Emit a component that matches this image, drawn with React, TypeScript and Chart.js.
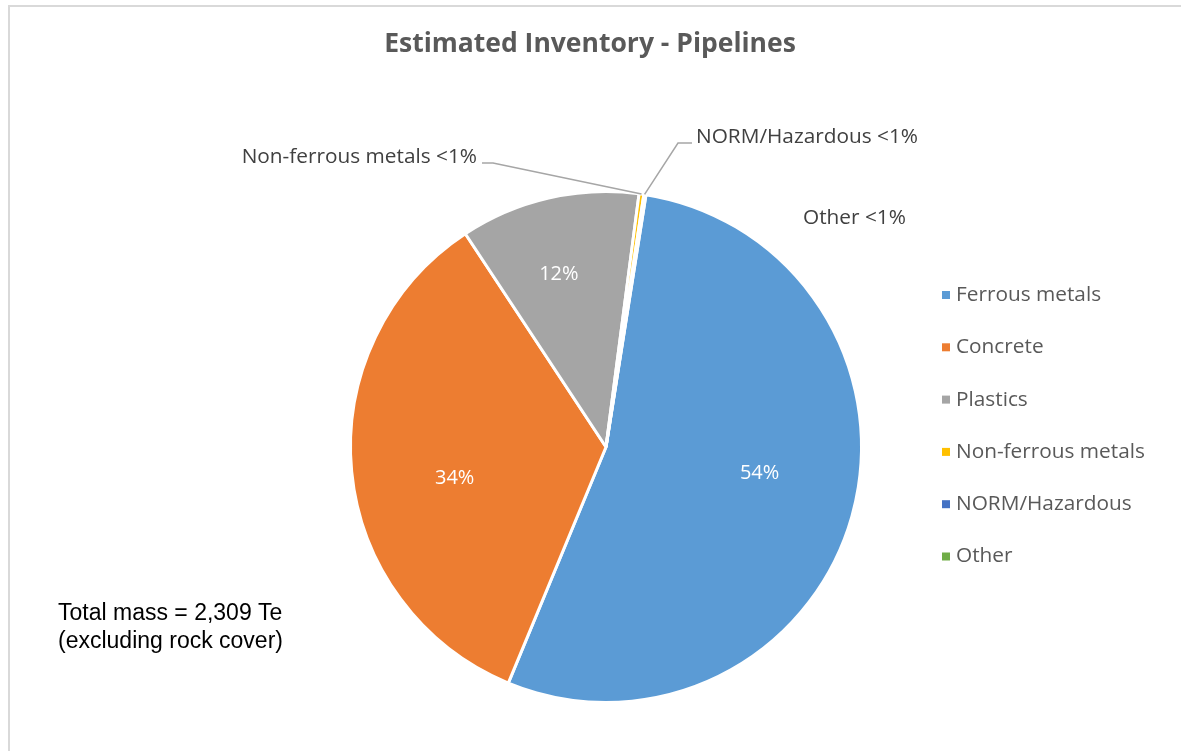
import { useEffect, useRef } from "react";
import { Chart, registerables } from "chart.js";

Chart.register(...registerables);

const categories = ["Ferrous metals", "Concrete", "Plastics", "Non-ferrous metals", "NORM/Hazardous", "Other"];
const massTonnes = [1241, 796, 262, 7, 2, 1];
const sliceColors = ["#5B9BD5", "#ED7D31", "#A5A5A5", "#FFC000", "#4472C4", "#70AD47"];
const percentLabels = ["54%", "34%", "12%", "<1%", "<1%", "<1%"];
const chartTitle = "Estimated Inventory - Pipelines";
const noteLines = ["Total mass = 2,309 Te", "(excluding rock cover)"];

const W = 1181;
const H = 751;
const FONT = '"Open Sans", "DejaVu Sans", sans-serif';

// inside-label placement: [radius fraction, angle shift in degrees]
const insidePlacement: [number, number][] = [
  [0.61, -6],
  [0.605, -6.3],
  [0.7, -2.3],
];

// outside-label layout (text anchor, optional elbow + end of leader line)
const outsideLayout: Record<number, { tx: number; ty: number; align: CanvasTextAlign; line?: [number, number][] }> = {
  3: { tx: 477, ty: 157, align: "right", line: [[493, 163], [482, 163]] },
  4: { tx: 696, ty: 137, align: "left", line: [[678, 143], [692, 143]] },
  5: { tx: 803, ty: 218, align: "left" },
};

const overlayPlugin = {
  id: "overlay",
  afterDraw(chart: any) {
    const ctx: CanvasRenderingContext2D = chart.ctx;
    ctx.save();
    // outer border
    ctx.strokeStyle = "#D9D9D9";
    ctx.lineWidth = 2;
    ctx.strokeRect(9, 6, W + 50, H + 50);

    // title
    ctx.fillStyle = "#595959";
    ctx.font = `bold 26.5px ${FONT}`;
    ctx.textAlign = "center";
    ctx.textBaseline = "middle";
    ctx.fillText(chartTitle, 590, 44);

    const meta = chart.getDatasetMeta(0);
    // inside labels
    ctx.font = `20px ${FONT}`;
    ctx.fillStyle = "#FFFFFF";
    for (let i = 0; i < 3; i++) {
      const arc = meta.data[i];
      const [rf, shift] = insidePlacement[i];
      const mid = (arc.startAngle + arc.endAngle) / 2 + (shift * Math.PI) / 180;
      const r = arc.outerRadius * rf;
      ctx.fillText(percentLabels[i], arc.x + Math.cos(mid) * r, arc.y + Math.sin(mid) * r);
    }

    // outside labels
    ctx.font = `20.8px ${FONT}`;
    for (const key of Object.keys(outsideLayout)) {
      const i = Number(key);
      const lay = outsideLayout[i];
      const arc = meta.data[i];
      const mid = (arc.startAngle + arc.endAngle) / 2;
      if (lay.line) {
        ctx.strokeStyle = "#A6A6A6";
        ctx.lineWidth = 1.5;
        ctx.beginPath();
        ctx.moveTo(arc.x + Math.cos(mid) * arc.outerRadius, arc.y + Math.sin(mid) * arc.outerRadius);
        for (const [px, py] of lay.line) ctx.lineTo(px, py);
        ctx.stroke();
      }
      ctx.fillStyle = "#404040";
      ctx.textAlign = lay.align;
      ctx.fillText(`${categories[i]} ${percentLabels[i]}`, lay.tx, lay.ty);
    }

    // legend
    ctx.font = `20.8px ${FONT}`;
    ctx.textAlign = "left";
    categories.forEach((c, i) => {
      const y = 295 + i * 52.3;
      ctx.fillStyle = sliceColors[i];
      ctx.fillRect(942, y - 4, 8, 8);
      ctx.fillStyle = "#595959";
      ctx.fillText(c, 956, y);
    });

    // note
    ctx.fillStyle = "#000000";
    ctx.font = `23px "Liberation Sans", Arial, sans-serif`;
    noteLines.forEach((t, i) => ctx.fillText(t, 58, 614 + i * 28));
    ctx.restore();
  },
};

export default function App() {
  const ref = useRef<HTMLCanvasElement>(null);
  useEffect(() => {
    if (!ref.current) return;
    const chart = new Chart(ref.current, {
      type: "pie",
      data: {
        labels: categories,
        datasets: [
          {
            data: massTonnes,
            backgroundColor: sliceColors,
            borderColor: "#FFFFFF",
            borderWidth: 3,
          },
        ],
      },
      options: {
        responsive: false,
        animation: false,
        devicePixelRatio: 1,
        rotation: 9,
        layout: { padding: { left: 349, right: W - 863, top: 190, bottom: H - 704 } },
        plugins: {
          legend: { display: false },
          title: { display: false },
          tooltip: { enabled: false },
        },
      },
      plugins: [overlayPlugin],
    });
    return () => chart.destroy();
  }, []);
  return (
    <div style={{ position: "fixed", left: 0, top: 0, width: W, height: H, background: "#FFFFFF" }}>
      <canvas ref={ref} width={W} height={H} style={{ width: W, height: H, display: "block" }} />
    </div>
  );
}
